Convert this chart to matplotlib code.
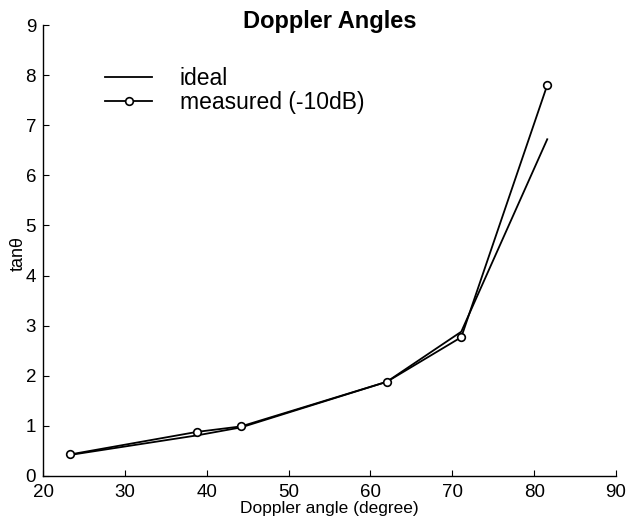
import matplotlib
matplotlib.use("Agg")
import matplotlib.pyplot as plt

angles = [23.3, 38.8, 44.2, 62.0, 71.1, 81.6]
ideal = [0.42, 0.81, 0.97, 1.88, 2.88, 6.72]
measured = [0.43, 0.88, 0.99, 1.88, 2.77, 7.80]
xticks = [20, 30, 40, 50, 60, 70, 80, 90]
yticks = [0, 1, 2, 3, 4, 5, 6, 7, 8, 9]

plt.rcParams['font.family'] = ['Liberation Sans', 'DejaVu Sans']

W, H = 628, 523
fig = plt.figure(figsize=(W / 100, H / 100), dpi=100)
left, right, bottom, top = 43, 616, 476, 25
ax = fig.add_axes([left / W, 1 - bottom / H, (right - left) / W, (bottom - top) / H])

ax.plot(angles, ideal, color='black', lw=1.3, label='ideal')
ax.plot(angles, measured, color='black', lw=1.3, marker='o', ms=5.5,
        mfc='white', mec='black', mew=1.2, label='measured (-10dB)')

ax.set_xlim(20, 90)
ax.set_ylim(0, 9)
ax.set_xticks(xticks)
ax.set_yticks(yticks)
ax.tick_params(direction='in', length=4, labelsize=13.5)
ax.tick_params(axis='x', pad=6)
ax.tick_params(axis='y', pad=5)
for s in ['top', 'right']:
    ax.spines[s].set_visible(False)
ax.spines['left'].set_linewidth(1.0)
ax.spines['bottom'].set_linewidth(1.0)

fig.text((left + right) / 2 / W, 1 - 28 / H, 'Doppler Angles', fontsize=17,
         fontweight='bold', ha='center', va='baseline')
ax.set_xlabel('Doppler angle (degree)', fontsize=12.5, labelpad=0)
ax.set_ylabel('tanθ', fontsize=13)
ax.yaxis.set_label_coords(-0.029, 0.494)

leg = ax.legend(loc='upper left', bbox_to_anchor=(0.0925, 0.928), frameon=False,
                fontsize=16.5, handlelength=2.05, handletextpad=1.2,
                labelspacing=0.05, borderaxespad=0)

fig.savefig('out.png', dpi=100, facecolor='white')
